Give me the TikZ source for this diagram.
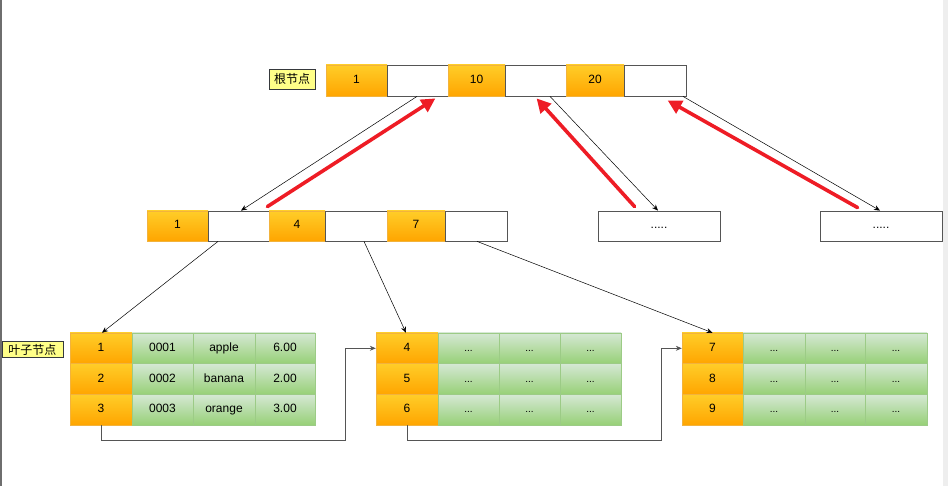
\documentclass[tikz,border=0pt]{standalone}
\usepackage{fontspec}
\setmainfont{Liberation Sans}
\newfontfamily\cjk{Noto Sans CJK SC}
\usetikzlibrary{arrows.meta,calc}

\definecolor{orgtop}{HTML}{FFCD28}
\definecolor{orgbot}{HTML}{FFA500}
\definecolor{orgline}{HTML}{F2B33D}
\definecolor{grntop}{HTML}{D5E8D4}
\definecolor{grnbot}{HTML}{97D077}
\definecolor{grnline}{HTML}{9CCB86}
\definecolor{cellline}{HTML}{555555}
\definecolor{tagfill}{HTML}{FFFF88}
\definecolor{tagline}{HTML}{36393D}
\definecolor{linkred}{HTML}{EE1C25}
\definecolor{frameline}{HTML}{6E6E6E}
\definecolor{framestrip}{HTML}{EEEEEE}

\tikzset{
  cell/.style={rectangle, inner sep=0pt, font=\fontsize{12}{14}\selectfont,
    text height=8.6pt, text depth=2.6pt},
  keycell/.style={cell, top color=orgtop, bottom color=orgbot, draw=orgline, line width=0.4pt},
  ptrcell/.style={cell, fill=white, draw=cellline, line width=0.8pt},
  datacell/.style={cell, top color=grntop, bottom color=grnbot, draw=grnline, line width=0.6pt},
  dotcell/.style={datacell, font=\fontsize{10}{12}\selectfont},
  stubbox/.style={cell, fill=white, draw=cellline, line width=0.8pt,
    minimum width=122pt, minimum height=30pt},
  tag/.style={rectangle, inner sep=0pt, fill=tagfill, draw=tagline, line width=0.6pt,
    font=\cjk\fontsize{12}{14}\selectfont},
  downlink/.style={draw=black, line width=0.5pt, -{Stealth[length=6pt,width=5pt]}},
  uplink/.style={draw=linkred, line width=3.6pt, line cap=round,
    -{Triangle[length=14pt,width=14pt]}},
  leaflink/.style={draw=cellline, line width=0.7pt, -{Stealth[length=6pt,width=5pt]}}
}

\begin{document}
\begin{tikzpicture}[x=1pt,y=-1pt]
  \useasboundingbox (0,0) rectangle (948,486);
  \fill[white] (0,0) rectangle (948,486);

  % root node
  \node[tag, minimum width=46pt, minimum height=20pt] (roottag) at (292,79) {根节点};
  \node[keycell, minimum width=61pt, minimum height=31pt] (rk1) at (356.5,80.5) {1};
  \node[ptrcell, minimum width=61pt, minimum height=31pt] (rp1) at (417.5,80.5) {};
  \node[keycell, minimum width=57pt, minimum height=31pt] (rk2) at (476.5,80.5) {10};
  \node[ptrcell, minimum width=61pt, minimum height=31pt] (rp2) at (535.5,80.5) {};
  \node[keycell, minimum width=58pt, minimum height=31pt] (rk3) at (595,80.5) {20};
  \node[ptrcell, minimum width=62pt, minimum height=31pt] (rp3) at (655,80.5) {};

  % inner node
  \node[keycell, minimum width=61pt, minimum height=30pt] (mk1) at (177.5,226) {1};
  \node[ptrcell, minimum width=61pt, minimum height=30pt] (mp1) at (238.5,226) {};
  \node[keycell, minimum width=56pt, minimum height=30pt] (mk2) at (297,226) {4};
  \node[ptrcell, minimum width=62pt, minimum height=30pt] (mp2) at (356,226) {};
  \node[keycell, minimum width=58pt, minimum height=30pt] (mk3) at (416,226) {7};
  \node[ptrcell, minimum width=62pt, minimum height=30pt] (mp3) at (476,226) {};

  % sibling inner nodes
  \node[stubbox] (sa) at (659,226) {.....};
  \node[stubbox] (sb) at (881,226) {.....};

  % leaf nodes
  \node[tag, minimum width=61pt, minimum height=16pt] (leaftag) at (32.5,349.5) {叶子节点};
  \foreach \r/\y/\k/\a/\b/\c in {1/348.3/1/0001/apple/6.00, 2/379/2/0002/banana/2.00, 3/409.7/3/0003/orange/3.00}{
    \node[keycell, minimum width=62pt, minimum height=30.7pt] (la\r) at (101,\y) {\k};
    \node[datacell, minimum width=61pt, minimum height=30.7pt] at (162.5,\y) {\a};
    \node[datacell, minimum width=62pt, minimum height=30.7pt] at (224,\y) {\b};
    \node[datacell, minimum width=60pt, minimum height=30.7pt] at (285,\y) {\c};
  }
  \foreach \r/\y/\k in {1/348.3/4, 2/379/5, 3/409.7/6}{
    \node[keycell, minimum width=62pt, minimum height=30.7pt] (lb\r) at (407,\y) {\k};
    \node[dotcell, minimum width=61pt, minimum height=30.7pt] at (468.5,\y) {...};
    \node[dotcell, minimum width=61pt, minimum height=30.7pt] at (529.5,\y) {...};
    \node[dotcell, minimum width=61pt, minimum height=30.7pt] at (590.5,\y) {...};
  }
  \foreach \r/\y/\k in {1/348.3/7, 2/379/8, 3/409.7/9}{
    \node[keycell, minimum width=61pt, minimum height=30.7pt] (lc\r) at (712.5,\y) {\k};
    \node[dotcell, minimum width=62pt, minimum height=30.7pt] at (774,\y) {...};
    \node[dotcell, minimum width=60pt, minimum height=30.7pt] at (835,\y) {...};
    \node[dotcell, minimum width=62pt, minimum height=30.7pt] at (896,\y) {...};
  }

  % root pointers down to children
  \draw[downlink] ([xshift=-0.5pt]rp1.south) -- ([xshift=2.5pt]mp1.north);
  \draw[downlink] ([xshift=14.5pt]rp2.south) -- ([xshift=-1pt]sa.north);
  \draw[downlink] ([xshift=28pt]rp3.south) -- ([xshift=-1pt]sb.north);

  % return path back to the root
  \draw[uplink] ([shift={(-2,-4)}]mp1.north east) -- ([shift={(-13,2)}]rp1.south east);
  \draw[uplink] ([shift={(37,-4)}]sa.north west) -- ([shift={(32,2)}]rp2.south west);
  \draw[uplink] ([shift={(38,-3)}]sb.north west) -- ([shift={(44,4)}]rp3.south west);

  % inner node pointers down to leaves
  \draw[downlink] ([xshift=-20.5pt]mp1.south) -- ([xshift=1pt]la1.north);
  \draw[downlink] ([xshift=8pt]mp2.south) -- ([xshift=-1pt]lb1.north);
  \draw[downlink] ([xshift=1pt]mp3.south) -- (lc1.north);

  % leaf sibling chain
  \draw[leaflink] (la3.south) -- ++(0,15) -| ([xshift=-30pt]lb1.west) -- (lb1.west);
  \draw[leaflink] (lb3.south) -- ++(0,15) -| ([xshift=-20pt]lc1.west) -- (lc1.west);

  % window frame edges
  \fill[frameline] (0,0) rectangle (1.5,486);
  \fill[framestrip] (943,0) rectangle (948,486);
\end{tikzpicture}
\end{document}
